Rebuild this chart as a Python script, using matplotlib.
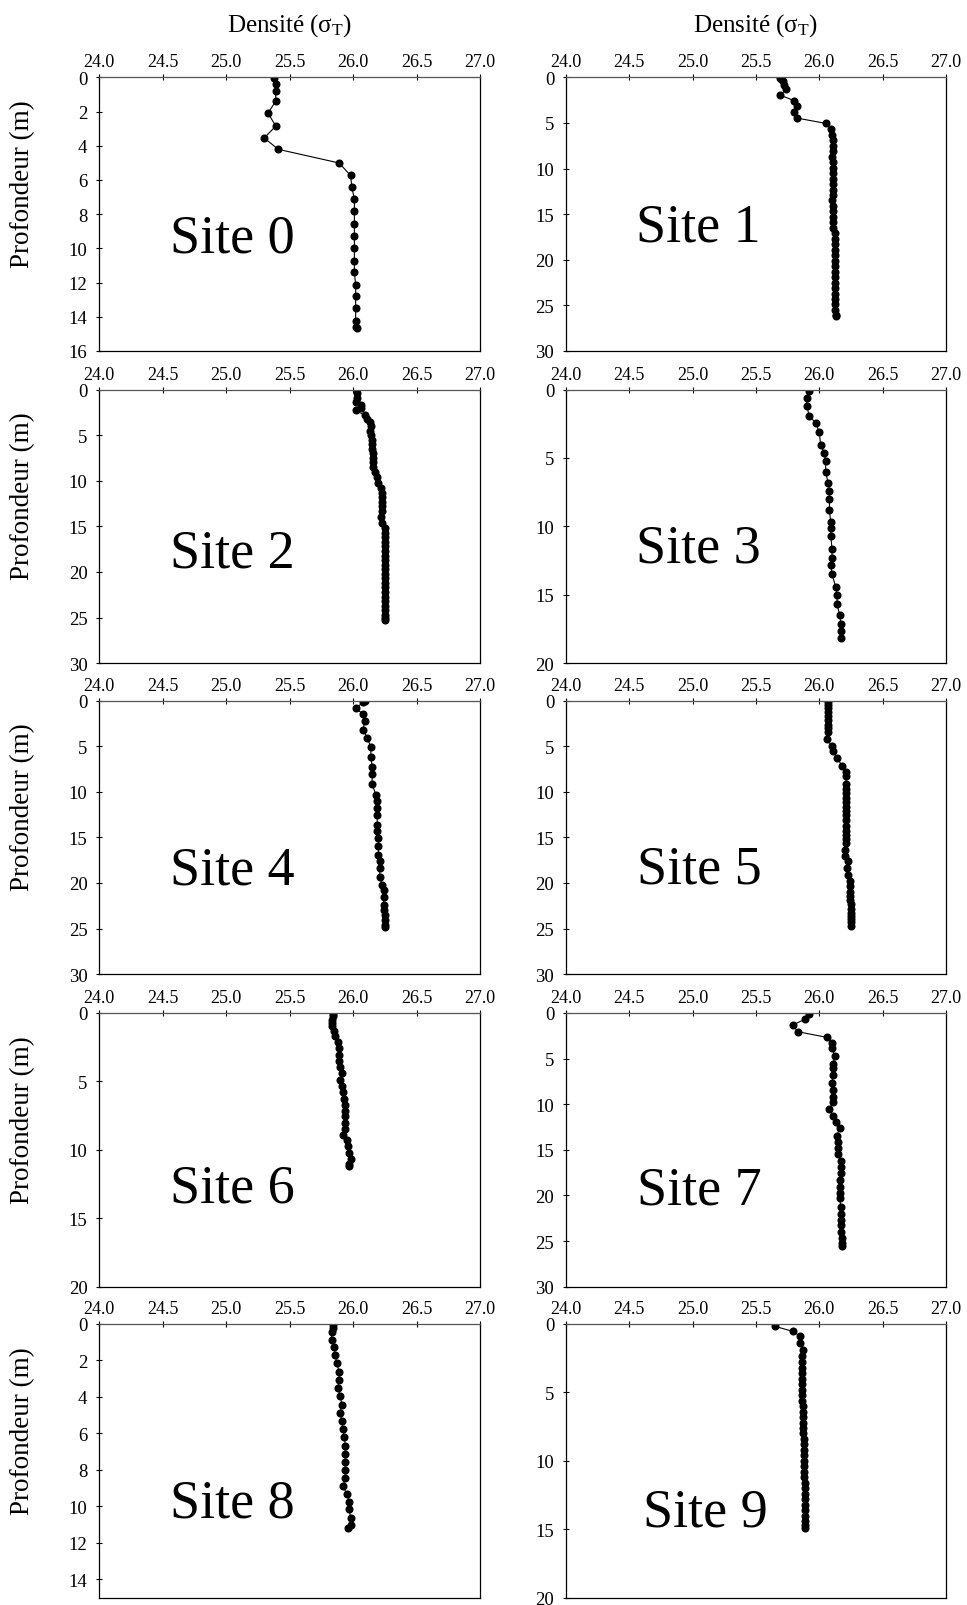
import matplotlib
matplotlib.use("Agg")
import matplotlib.pyplot as plt
from matplotlib.ticker import FormatStrFormatter

plt.rcParams['font.family'] = ['Liberation Serif', 'DejaVu Serif']
plt.rcParams['mathtext.fontset'] = 'custom'
plt.rcParams['mathtext.rm'] = 'Liberation Serif'
plt.rcParams['mathtext.it'] = 'Liberation Serif:italic'

# ---- data: depth (m) and density (sigma_T) per site ----
depth0 = [0.04, 0.39, 0.78, 1.40, 2.09, 2.85, 3.55, 4.21, 5.01, 5.74, 6.40, 7.14, 7.82, 8.59, 9.25,
          9.95, 10.73, 11.38, 12.12, 12.78, 13.48, 14.22, 14.61, 14.66]
dens0 = [25.38, 25.39, 25.39, 25.39, 25.33, 25.39, 25.30, 25.41, 25.89, 25.98, 25.99, 26.01, 26.01, 26.01, 26.01,
         26.01, 26.01, 26.01, 26.02, 26.02, 26.02, 26.02, 26.02, 26.03]

depth1 = [0.04, 0.2, 0.4, 0.84, 1.32, 1.94, 2.56, 3.18, 3.80, 4.46, 5.05, 5.67, 6.29, 6.9, 7.5, 8.1, 8.7,
          9.3, 9.9, 10.5, 11.1, 11.7, 12.3, 12.9, 13.5, 14.1, 14.7, 15.3, 15.9, 16.5, 17.1, 17.7, 18.3,
          18.9, 19.5, 20.1, 20.7, 21.3, 21.9, 22.5, 23.1, 23.7, 24.3, 24.9, 25.5, 26.0, 26.2]
dens1 = [25.69, 25.70, 25.71, 25.72, 25.74, 25.69, 25.80, 25.82, 25.80, 25.82, 26.05, 26.09, 26.10, 26.11,
         26.11, 26.11, 26.10, 26.11, 26.11, 26.11, 26.11, 26.11, 26.11, 26.11, 26.10, 26.11, 26.11, 26.11,
         26.11, 26.11, 26.12, 26.12, 26.12, 26.12, 26.12, 26.12, 26.12, 26.12, 26.12, 26.12, 26.12, 26.12,
         26.12, 26.12, 26.12, 26.13, 26.13]

depth2 = [0.4, 0.9, 1.4, 1.7, 2.0, 2.3, 2.8, 3.2, 3.6, 4.0, 4.5, 5.0, 5.5, 6.0, 6.5, 7.0, 7.5, 8.0, 8.5,
          9.0, 9.6, 10.2, 10.8, 11.3, 11.8, 12.3, 12.8, 13.3, 14.0, 14.6, 15.2, 15.7, 16.2, 16.7, 17.2,
          17.7, 18.2, 18.7, 19.2, 19.7, 20.2, 20.7, 21.2, 21.7, 22.2, 22.7, 23.2, 23.7, 24.2, 24.7, 25.1, 25.3]
dens2 = [26.03, 26.03, 26.02, 26.06, 26.06, 26.02, 26.09, 26.11, 26.13, 26.14, 26.13, 26.14, 26.15, 26.15,
         26.15, 26.16, 26.16, 26.16, 26.16, 26.17, 26.19, 26.20, 26.22, 26.23, 26.23, 26.23, 26.23, 26.23,
         26.22, 26.23, 26.25, 26.25, 26.25, 26.25, 26.25, 26.25, 26.25, 26.25, 26.25, 26.25, 26.25, 26.25,
         26.25, 26.25, 26.25, 26.25, 26.25, 26.25, 26.25, 26.25, 26.25, 26.25]

depth3 = [0.1, 0.63, 1.19, 1.92, 2.43, 3.13, 4.03, 4.67, 5.25, 6.05, 6.83, 7.44, 7.97, 8.82, 9.70,
          10.13, 10.69, 11.62, 12.32, 12.81, 13.51, 14.43, 15.02, 15.70, 16.45, 17.11, 17.64, 18.18]
dens3 = [25.92, 25.90, 25.90, 25.92, 25.97, 26.00, 26.01, 26.04, 26.05, 26.05, 26.07, 26.08, 26.08, 26.08,
         26.09, 26.09, 26.09, 26.10, 26.10, 26.09, 26.10, 26.13, 26.14, 26.14, 26.16, 26.17, 26.17, 26.17]

depth4 = [0.1, 0.2, 0.84, 1.50, 2.30, 3.18, 4.09, 5.07, 6.20, 7.26, 8.07, 9.20, 10.33, 11.06, 11.79,
          12.59, 13.61, 14.34, 15.04, 15.99, 16.90, 17.55, 18.36, 19.38, 20.18, 20.73, 21.57, 22.45,
          22.92, 23.47, 24.01, 24.56, 24.85]
dens4 = [26.09, 26.08, 26.02, 26.08, 26.09, 26.08, 26.11, 26.14, 26.14, 26.15, 26.15, 26.15, 26.18, 26.19,
         26.19, 26.19, 26.19, 26.19, 26.20, 26.20, 26.20, 26.21, 26.21, 26.21, 26.23, 26.24, 26.24, 26.24,
         26.24, 26.25, 26.25, 26.25, 26.25]

depth5 = [0.15, 0.44, 0.84, 1.31, 1.75, 2.19, 2.7, 3.03, 3.47, 4.23, 5.04, 5.51, 6.28, 7.19, 7.88, 8.32,
          9.16, 9.65, 10.15, 10.64, 11.13, 11.64, 12.15, 12.6, 13.07, 13.80, 14.25, 14.71, 15.2, 15.62,
          16.35, 17.08, 17.63, 18.36, 19.09, 19.74, 20.37, 21.02, 21.4, 21.82, 22.3, 22.85, 23.25, 23.65,
          24.0, 24.31, 24.74]
dens5 = [26.07, 26.07, 26.07, 26.07, 26.07, 26.07, 26.07, 26.07, 26.07, 26.06, 26.10, 26.11, 26.14, 26.18,
         26.21, 26.21, 26.21, 26.21, 26.21, 26.21, 26.21, 26.21, 26.21, 26.21, 26.21, 26.21, 26.21, 26.21,
         26.21, 26.21, 26.20, 26.20, 26.23, 26.22, 26.23, 26.24, 26.24, 26.24, 26.24, 26.24, 26.25, 26.25,
         26.25, 26.25, 26.25, 26.25, 26.25]

depth6 = [0.05, 0.25, 0.49, 0.73, 0.97, 1.34, 1.70, 2.14, 2.55, 3.04, 3.53, 3.94, 4.38, 4.87, 5.35, 5.79,
          6.28, 6.69, 7.18, 7.54, 8.03, 8.44, 8.88, 9.29, 9.73, 10.22, 10.66, 11.07, 11.2]
dens6 = [25.84, 25.84, 25.83, 25.83, 25.83, 25.85, 25.86, 25.88, 25.89, 25.89, 25.89, 25.90, 25.91, 25.90,
         25.91, 25.92, 25.93, 25.94, 25.94, 25.94, 25.94, 25.94, 25.92, 25.95, 25.96, 25.97, 25.98, 25.97, 25.97]

depth7 = [0.07, 0.66, 1.32, 2.05, 2.67, 3.29, 3.84, 4.68, 5.55, 6.07, 6.80, 7.64, 8.44, 9.17, 9.72, 10.52,
          11.29, 11.91, 12.57, 13.45, 14.10, 14.76, 15.49, 16.22, 16.84, 17.57, 18.30, 19.11, 19.77, 20.31,
          21.23, 22.07, 22.69, 23.24, 23.97, 24.70, 25.25, 25.58]
dens7 = [25.92, 25.89, 25.79, 25.83, 26.06, 26.10, 26.10, 26.12, 26.11, 26.11, 26.11, 26.10, 26.11, 26.11,
         26.11, 26.08, 26.11, 26.13, 26.16, 26.14, 26.15, 26.15, 26.15, 26.17, 26.17, 26.17, 26.16, 26.16,
         26.16, 26.16, 26.17, 26.17, 26.17, 26.17, 26.17, 26.18, 26.18, 26.18]

depth8 = [0.05, 0.22, 0.46, 0.86, 1.28, 1.70, 2.15, 2.61, 3.05, 3.50, 3.96, 4.42, 4.87, 5.29, 5.75, 6.20,
          6.66, 7.12, 7.55, 7.99, 8.45, 8.87, 9.31, 9.73, 10.16, 10.62, 11.02, 11.20]
dens8 = [25.84, 25.84, 25.83, 25.83, 25.85, 25.86, 25.87, 25.89, 25.89, 25.88, 25.90, 25.91, 25.90, 25.91,
         25.92, 25.93, 25.94, 25.94, 25.94, 25.94, 25.94, 25.92, 25.95, 25.97, 25.97, 25.98, 25.98, 25.96]

depth9 = [0.17, 0.54, 0.90, 1.39, 1.87, 2.36, 2.8, 3.21, 3.6, 4.0, 4.4, 4.8, 5.2, 5.6, 6.0, 6.4, 6.8, 7.2,
          7.6, 8.0, 8.4, 8.8, 9.2, 9.6, 10.0, 10.4, 10.8, 11.2, 11.6, 12.0, 12.4, 12.8, 13.2, 13.6, 14.0,
          14.4, 14.7, 14.9]
dens9 = [25.65, 25.79, 25.85, 25.85, 25.87, 25.86, 25.86, 25.86, 25.86, 25.86, 25.86, 25.86, 25.86, 25.86,
         25.87, 25.87, 25.87, 25.87, 25.87, 25.87, 25.88, 25.88, 25.88, 25.88, 25.88, 25.88, 25.88, 25.88,
         25.89, 25.89, 25.89, 25.89, 25.89, 25.89, 25.89, 25.89, 25.89, 25.89]

site_labels = ["Site 0", "Site 1", "Site 2", "Site 3", "Site 4",
               "Site 5", "Site 6", "Site 7", "Site 8", "Site 9"]
depths = [depth0, depth1, depth2, depth3, depth4, depth5, depth6, depth7, depth8, depth9]
densities = [dens0, dens1, dens2, dens3, dens4, dens5, dens6, dens7, dens8, dens9]
depth_max = [16, 30, 30, 20, 30, 30, 20, 30, 15, 20]
depth_step = [2, 5, 5, 5, 5, 5, 5, 5, 2, 5]
depth_ticks_max = [16, 30, 30, 20, 30, 30, 20, 30, 14, 20]
x_ticks = [24.0, 24.5, 25.0, 25.5, 26.0, 26.5, 27.0]
x_label = "Densité ($\\mathregular{\\sigma_T}$)"
y_label = "Profondeur (m)"

# ---- layout (pixel geometry of the reference) ----
W, H = 967, 1606
fig = plt.figure(figsize=(W / 100, H / 100), dpi=100)
row_tops = [78.3, 390.5, 701.5, 1014.0, 1325.0]
ax_h = 273.7
col_x = [(99.3, 380.7), (566.0, 380.0)]
label_pos = [(0.35, 0.362), (0.348, 0.402), (0.35, 0.353), (0.348, 0.371), (0.35, 0.333),
             (0.35, 0.334), (0.35, 0.313), (0.35, 0.305), (0.35, 0.295), (0.367, 0.262)]

for i in range(10):
    r, c = divmod(i, 2)
    x0, w = col_x[c]
    top = row_tops[r]
    ax = fig.add_axes([x0 / W, 1 - (top + ax_h) / H, w / W, ax_h / H])
    ax.plot(densities[i], depths[i], color='black', lw=0.8, marker='o',
            markersize=4.8, markerfacecolor='black', markeredgecolor='black')
    ax.set_xlim(24.0, 27.0)
    ax.set_ylim(depth_max[i], 0)
    ax.set_xticks(x_ticks)
    ax.xaxis.set_major_formatter(FormatStrFormatter('%.1f'))
    yt = list(range(0, depth_ticks_max[i] + 1, depth_step[i]))
    ax.set_yticks(yt)
    ax.xaxis.tick_top()
    ax.tick_params(axis='x', direction='inout', length=4, width=0.8, pad=3,
                   labelsize=13, colors='black')
    ax.tick_params(axis='y', direction='inout', length=5, width=0.8, pad=6,
                   labelsize=13.5, colors='black')
    for side in ['left', 'right', 'bottom']:
        ax.spines[side].set_color('black')
        ax.spines[side].set_linewidth(0.9)
    ax.spines['top'].set_color('#555555')
    ax.spines['top'].set_linewidth(0.9)
    lx, ly = label_pos[i]
    ax.text(lx, ly, site_labels[i], transform=ax.transAxes, ha='center',
            va='baseline', fontsize=39)
    if c == 0:
        yc = top + ax_h / 2 - 31
        fig.text(23 / W, 1 - yc / H, y_label, rotation=90, ha='center',
                 va='center', fontsize=19.5)

# top axis titles
for c in range(2):
    x0, w = col_x[c]
    fig.text((x0 + w / 2) / W, 1 - 32 / H, x_label, ha='center',
             va='baseline', fontsize=18)

fig.savefig("out.png", dpi=100)
